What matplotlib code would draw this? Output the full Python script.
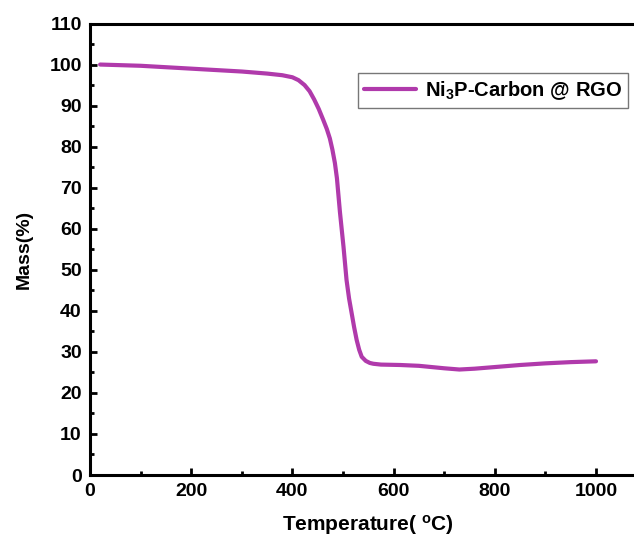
import matplotlib
matplotlib.use("Agg")
import matplotlib.pyplot as plt
from matplotlib.ticker import MultipleLocator

plt.rcParams['font.family'] = ['Liberation Sans', 'DejaVu Sans']
plt.rcParams['font.weight'] = 'bold'
plt.rcParams['mathtext.fontset'] = 'custom'
plt.rcParams['mathtext.rm'] = 'Liberation Sans:bold'
plt.rcParams['mathtext.bf'] = 'Liberation Sans:bold'
plt.rcParams['mathtext.default'] = 'bf'

# TGA curve, temperature (C) vs remaining mass (%)
temperature = [20, 100, 200, 300, 350, 380, 400, 412, 424, 434, 443, 452,
               461, 468, 474, 479, 484, 488, 494, 501, 507, 512, 517, 522,
               527, 532, 537, 545, 553, 560, 575, 613, 650, 700, 730, 760,
               800, 850, 900, 950, 1000]
mass = [100.0, 99.7, 99.0, 98.3, 97.8, 97.4, 96.9, 96.2, 95.0, 93.5, 91.5,
        89.2, 86.5, 84.3, 82.0, 79.3, 76.0, 72.3, 64.0, 55.6, 47.5, 43.0,
        39.5, 36.0, 32.9, 30.5, 28.8, 27.8, 27.3, 27.1, 26.9, 26.8, 26.6,
        26.0, 25.7, 25.9, 26.3, 26.8, 27.2, 27.5, 27.7]
sample = r'Ni$_3$P-Carbon @ RGO'

fig = plt.figure(figsize=(6.34, 5.38), dpi=100)
ax = fig.add_axes([90 / 634, 63 / 538, 556.6 / 634, 451.5 / 538])

ax.plot(temperature, mass, color='#b03aab', lw=3.0, label=sample,
        solid_capstyle='round', solid_joinstyle='round')

ax.set_xlim(0, 1100)
ax.set_ylim(0, 110)
ax.xaxis.set_major_locator(MultipleLocator(200))
ax.xaxis.set_minor_locator(MultipleLocator(100))
ax.yaxis.set_major_locator(MultipleLocator(10))
ax.yaxis.set_minor_locator(MultipleLocator(5))
ax.tick_params(which='both', direction='in', width=2, labelsize=14,
               top=False, right=False)
ax.tick_params(which='major', length=5, pad=6)
ax.tick_params(which='minor', length=3)
for lbl in ax.get_xticklabels() + ax.get_yticklabels():
    lbl.set_fontweight('bold')
for s in ax.spines.values():
    s.set_linewidth(2.2)

ax.set_xlabel(r'Temperature( $^{o}$C)', fontsize=15, fontweight='bold',
              labelpad=9)
ax.set_ylabel('Mass(%)', fontsize=14, fontweight='bold', labelpad=12)

leg = ax.legend(loc='upper right', bbox_to_anchor=(0.967, 0.89),
                fontsize=14.5, frameon=True, fancybox=False,
                handlelength=2.6, borderpad=0.3, handletextpad=0.45,
                borderaxespad=0)
leg.get_frame().set_edgecolor('#555555')
leg.get_frame().set_linewidth(1.0)
for t in leg.get_texts():
    t.set_fontweight('bold')

fig.savefig('out.png', dpi=100)
